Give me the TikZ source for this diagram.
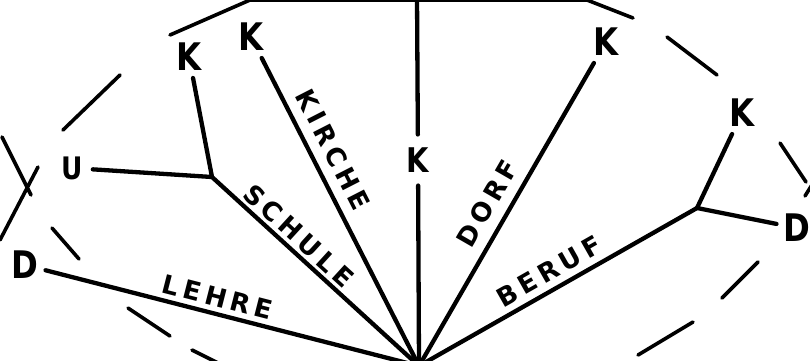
\documentclass[tikz,border=0pt]{standalone}
\usepackage{fontspec}
\newfontfamily\signfont{DejaVu Sans}[FakeStretch=0.85]
\newfontfamily\tagfont{DejaVu Sans}[LetterSpace=18]

\begin{document}
\begin{tikzpicture}[x=1pt,y=-1pt,line width=4.3pt,line cap=round,line join=round,
  every node/.style={inner sep=5pt,font=\signfont\bfseries\fontsize{38}{38}\selectfont},
  edgetag/.style={sloped,above,inner sep=#1,font=\tagfont\bfseries\fontsize{26}{26}\selectfont},
  edgetag/.default=5pt,
  rim/.style={line width=3.6pt}]
\useasboundingbox (0,0) rectangle (810,360);
\clip (0,0) rectangle (810,360);
% dashed rim
\draw[rim] (63,130) -- (120,75)  (170,35) -- (250,0) -- (587,0) -- (633,18)
  (667,37) -- (717,75)  (780,143) -- (806,182)  (805,196) -- (815,180)
  (758,262) -- (722,298)  (693,322) -- (638,355)  (192,350) -- (218,363)
  (128,308) -- (170,336)  (52,228) -- (79,259)  (2,137) -- (31,195)  (38,167) -- (0,240);
% nodes
\coordinate (root) at (419,366);
\coordinate (top) at (417,-4);
\coordinate (js) at (212,177);
\coordinate (jb) at (697,208);
\node (dl) at (25,265) {D};
\node (u) at (72,168) [inner sep=8pt,font=\signfont\bfseries\fontsize{31}{31}\selectfont] {U};
\node (ks) at (189,57) {K};
\node (kk) at (251,37) {K};
\node (km) at (418,160) [inner ysep=11pt,font=\signfont\bfseries\fontsize{34}{34}\selectfont] {K};
\node (kd) at (606,42) {K};
\node (kb) at (742,113) {K};
\node (dr) at (797,228) {D};
% edges
\draw (dl) -- node[edgetag,pos=0.45] {LEHRE} (root);
\draw (js) -- node[edgetag=3pt,pos=0.37] {SCHULE} (root);
\draw (u) -- (js) -- (ks);
\draw (kk) -- node[edgetag=10pt,pos=0.33] {KIRCHE} (root);
\draw (top) -- (km) -- (root);
\draw (root) -- node[edgetag=10pt,pos=0.5] {DORF} (kd);
\draw (root) -- node[edgetag=6pt,pos=0.5] {BERUF} (jb);
\draw (kb) -- (jb) -- (dr);
\end{tikzpicture}
\end{document}
